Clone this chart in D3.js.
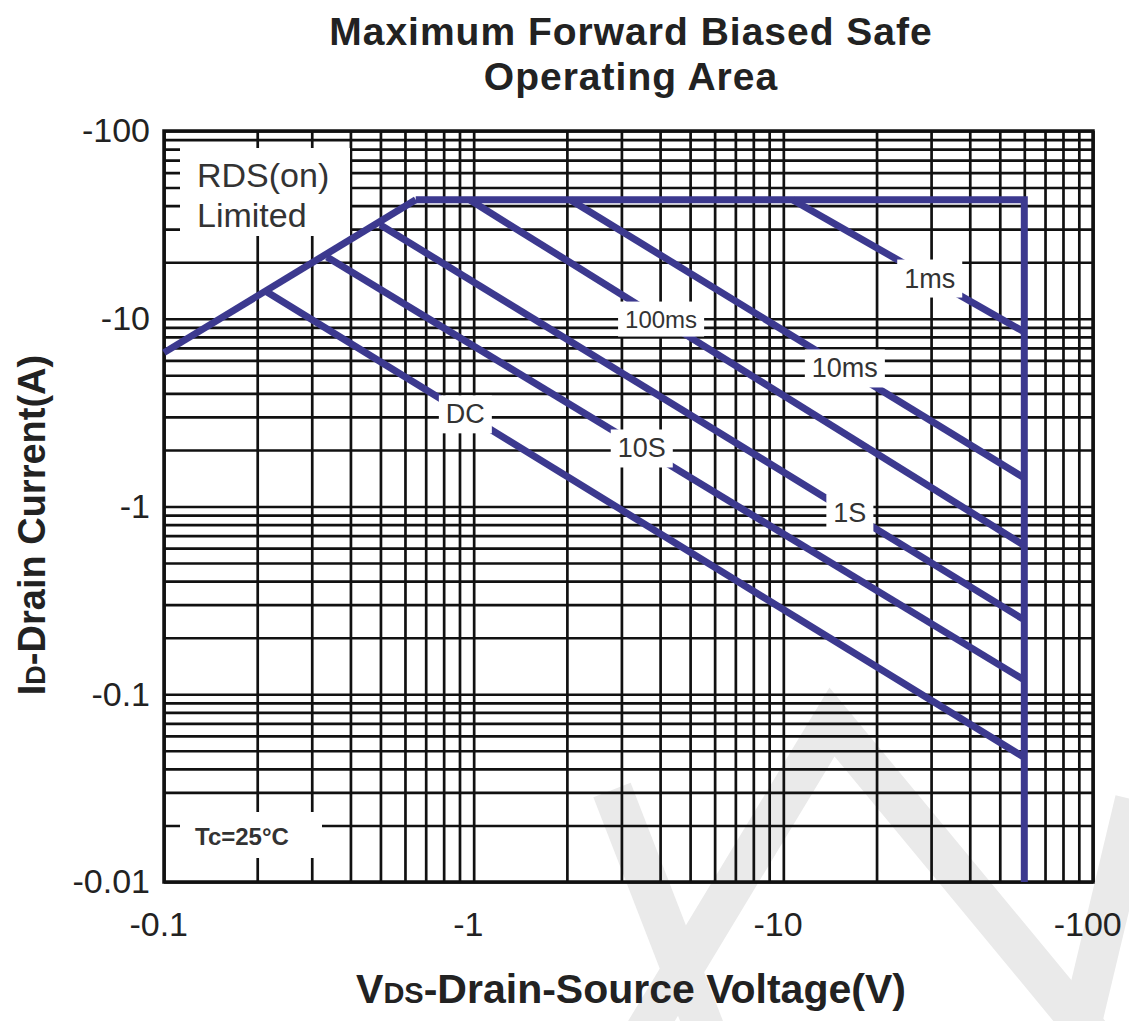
<!DOCTYPE html>
<html>
<head>
<meta charset="utf-8">
<script src="https://cdn.jsdelivr.net/npm/d3@7"></script>
<style>
body { margin: 0; background: #fff; }
text { font-family: "Liberation Sans", Arial, Helvetica, sans-serif; }
</style>
</head>
<body>
<div id="chart"></div>
<script>
// tick values and labels
var xTicks = [0.1, 1, 10, 100];
var xTickLabels = ["-0.1", "-1", "-10", "-100"];
var yTicks = [0.01, 0.1, 1, 10, 100];
var yTickLabels = ["-0.01", "-0.1", "-1", "-10", "-100"];

// RDS(on) limit and outer boundary, |VDS| (V) vs |ID| (A)
var rdsLine = [[0.1, 6.6], [0.65, 43]];
var limitLine = [[0.65, 43], [60, 43], [60, 0.01]];

// pulse width lines
var pulseNames = ["1ms", "10ms", "100ms", "1S", "10S", "DC"];
var pulseStart = [[10.7, 43], [2.05, 43], [0.97, 43], [0.50, 31.6], [0.336, 21.3], [0.215, 13.9]];
var pulseEnd = [[60, 8.5], [60, 1.42], [60, 0.62], [60, 0.249], [60, 0.119], [60, 0.046]];
var labelVolt = [29.7, 15.8, 4.03, 16.4, 3.49, 0.94];

var svgWidth = 1129, svgHeight = 1021;
var margin = {top: 131, right: 36, bottom: 139, left: 164};
var chartWidth = svgWidth - margin.left - margin.right;
var chartHeight = svgHeight - margin.top - margin.bottom;

var blue = "#3c398f";
var gridColor = "#111";

var svg = d3.select("#chart").append("svg")
    .attr("width", svgWidth)
    .attr("height", svgHeight)
    .style("display", "block");

svg.append("rect").attr("width", svgWidth).attr("height", svgHeight).attr("fill", "#fff");

// faint background watermark
var wm = svg.append("g").attr("fill", "none").attr("stroke", "#eaeaea").attr("stroke-width", 40);
wm.append("path").attr("d", "M640,1040 L832,722 L1095,1040");
wm.append("path").attr("d", "M612,790 L705,1030");
wm.append("path").attr("d", "M1135,800 L1080,1030");

var chartGroup = svg.append("g")
    .attr("transform", `translate(${margin.left}, ${margin.top})`);

var xScale = d3.scaleLog().domain([0.1, 100]).range([0, chartWidth]);
var yScale = d3.scaleLog().domain([0.01, 100]).range([chartHeight, 0]);

// grid
var gx = chartGroup.append("g")
    .call(d3.axisBottom(xScale).tickValues(xScale.ticks()).tickSize(chartHeight).tickFormat(""));
gx.selectAll(".tick line").attr("y1", 0).attr("y2", chartHeight)
    .attr("stroke", gridColor).attr("stroke-width", 2.7);
gx.select(".domain").remove();

var gy = chartGroup.append("g")
    .call(d3.axisLeft(yScale).tickValues(yScale.ticks()).tickSize(-chartWidth).tickFormat(""));
gy.selectAll(".tick line").attr("stroke", gridColor).attr("stroke-width", 2.7);
gy.select(".domain").remove();

chartGroup.append("rect")
    .attr("width", chartWidth).attr("height", chartHeight)
    .attr("fill", "none").attr("stroke", gridColor).attr("stroke-width", 3.5);

// note boxes that hide the grid
chartGroup.append("rect").attr("x", 16).attr("y", 17).attr("width", 170).attr("height", 88).attr("fill", "#fff");
chartGroup.append("rect").attr("x", 16).attr("y", 681).attr("width", 142).attr("height", 46).attr("fill", "#fff");

var line = d3.line().x(d => xScale(d[0])).y(d => yScale(d[1]));

function drawLine(pts) {
    chartGroup.append("path")
        .attr("d", line(pts))
        .attr("fill", "none")
        .attr("stroke", blue)
        .attr("stroke-width", 7)
        .attr("stroke-linejoin", "miter");
}

drawLine(rdsLine);
pulseNames.forEach((n, i) => drawLine([pulseStart[i], pulseEnd[i]]));
drawLine(limitLine);

// pulse labels on white boxes
pulseNames.forEach(function(n, i) {
    var s = pulseStart[i], e = pulseEnd[i];
    var slope = Math.log(e[1] / s[1]) / Math.log(e[0] / s[0]);
    var v = labelVolt[i];
    var cur = s[1] * Math.pow(v / s[0], slope);
    var cx = xScale(v), cy = yScale(cur);
    var g = chartGroup.append("g");
    var box = g.append("rect").attr("fill", "#fff");
    var t = g.append("text")
        .attr("x", cx).attr("y", cy)
        .attr("dy", "0.35em")
        .attr("text-anchor", "middle")
        .attr("font-size", n === "100ms" ? "24px" : "27px")
        .attr("fill", "#333")
        .text(n);
    var bb = t.node().getBBox();
    box.attr("x", bb.x - 7).attr("y", bb.y - 4).attr("width", bb.width + 14).attr("height", bb.height + 8);
});

// notes
var rdsText = chartGroup.append("text").attr("x", 33).attr("font-size", "34px").attr("fill", "#333");
rdsText.append("tspan").attr("x", 33).attr("y", 56).text("RDS(on)");
rdsText.append("tspan").attr("x", 33).attr("y", 96).text("Limited");

chartGroup.append("text")
    .attr("x", 31).attr("y", 714)
    .attr("font-size", "24px").attr("font-weight", "bold").attr("fill", "#333")
    .text("Tc=25°C");

// tick labels
var xAxis = chartGroup.append("g")
    .attr("transform", `translate(0,${chartHeight})`)
    .call(d3.axisBottom(xScale).tickValues(xTicks).tickSize(0).tickPadding(30)
        .tickFormat((d, i) => xTickLabels[i]));
xAxis.select(".domain").remove();
xAxis.selectAll("text").attr("font-size", "34px").attr("fill", "#222").attr("dx", "-0.17em")
    .style("font-family", "'Liberation Sans', Arial, sans-serif");

var yAxis = chartGroup.append("g")
    .call(d3.axisLeft(yScale).tickValues(yTicks).tickSize(0).tickPadding(14)
        .tickFormat((d, i) => yTickLabels[i]));
yAxis.select(".domain").remove();
yAxis.selectAll("text").attr("font-size", "34px").attr("fill", "#222")
    .style("font-family", "'Liberation Sans', Arial, sans-serif");

// titles
var title = svg.append("text")
    .attr("text-anchor", "middle").attr("font-size", "39px").attr("font-weight", "bold")
    .attr("letter-spacing", "1px").attr("fill", "#222");
title.append("tspan").attr("x", 631).attr("y", 45).text("Maximum Forward Biased Safe");
title.append("tspan").attr("x", 631).attr("y", 90).text("Operating Area");

var xTitle = svg.append("text")
    .attr("x", 631).attr("y", 1003)
    .attr("text-anchor", "middle").attr("font-size", "41px").attr("font-weight", "bold").attr("fill", "#222");
xTitle.append("tspan").text("V");
xTitle.append("tspan").attr("font-size", "29px").text("DS");
xTitle.append("tspan").text("-Drain-Source Voltage(V)");

var yTitle = svg.append("text")
    .attr("transform", "translate(45,525) rotate(-90)")
    .attr("text-anchor", "middle").attr("font-size", "38px").attr("font-weight", "bold").attr("fill", "#222");
yTitle.append("tspan").text("I");
yTitle.append("tspan").attr("font-size", "27px").text("D");
yTitle.append("tspan").text("-Drain Current(A)");
</script>
</body>
</html>
